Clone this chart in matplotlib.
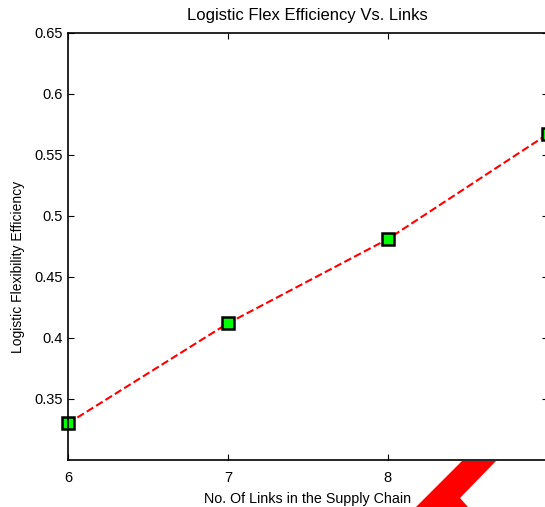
import matplotlib
matplotlib.use("Agg")
import matplotlib.pyplot as plt
from matplotlib.patches import Polygon

# data
links = [6, 7, 8, 9]
efficiency = [0.33, 0.412, 0.481, 0.567]
xticks = [6, 7, 8]
xtick_labels = ["6", "7", "8"]
yticks = [0.35, 0.4, 0.45, 0.5, 0.55, 0.6, 0.65]
ytick_labels = ["0.35", "0.4", "0.45", "0.5", "0.55", "0.6", "0.65"]

plt.rcParams['font.family'] = ['Liberation Sans', 'DejaVu Sans']

fig = plt.figure(figsize=(5.45, 5.07), dpi=100)
ax = fig.add_axes([0.1248, 0.0927, 0.88, 0.8423])

ax.plot(links, efficiency, color='red', linestyle='--', linewidth=1.5,
        marker='s', markersize=9, markerfacecolor=(0, 1, 0),
        markeredgecolor='black', markeredgewidth=1.8, clip_on=False)

ax.set_xlim(6, 9)
ax.set_ylim(0.3, 0.65)
ax.set_xticks(xticks)
ax.set_xticklabels(xtick_labels)
ax.set_yticks(yticks)
ax.set_yticklabels(ytick_labels)
ax.tick_params(direction='in', length=4, width=0.8, labelsize=10.5,
               top=True, right=True)
ax.tick_params(axis='x', pad=8)
ax.tick_params(axis='y', pad=3.5)
for s in ax.spines.values():
    s.set_linewidth(1.2)

ax.set_title("Logistic Flex Efficiency Vs. Links", fontsize=12, pad=9)
ax.set_xlabel("No. Of Links in the Supply Chain", fontsize=10.3, labelpad=5)
ax.set_ylabel("Logistic Flexibility Efficiency", fontsize=10)
ax.yaxis.set_label_coords(-0.09, 0.452)

# red shape below the axis at the bottom right
W, H = 545.0, 507.0
pts = [(462, 461), (496, 461), (460, 498), (468, 507), (416, 507)]
poly = Polygon([(x / W, 1 - y / H) for x, y in pts], closed=True,
               transform=fig.transFigure, facecolor='red', edgecolor='none',
               zorder=-1)
fig.patches.append(poly)

fig.savefig("out.png", dpi=100)
